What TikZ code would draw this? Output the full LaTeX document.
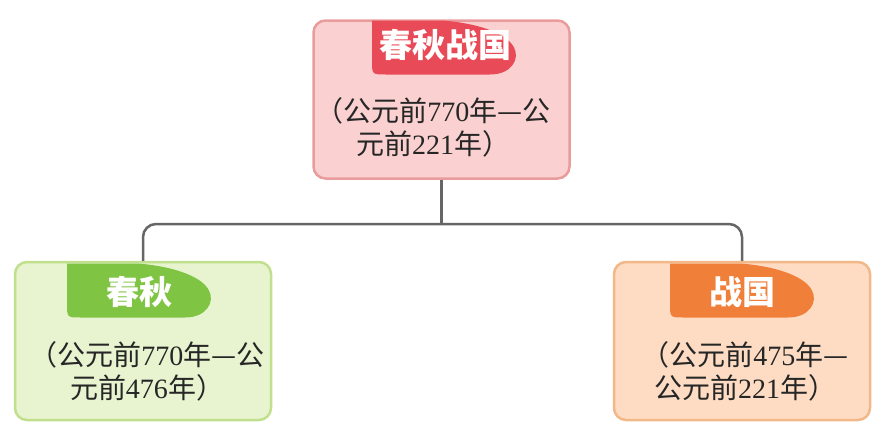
\documentclass[tikz,border=0pt]{standalone}
\usepackage{fontspec}
\setmainfont{Liberation Serif}
\newfontfamily\cjk{Noto Sans CJK SC}
\usepackage{tikz}
\usetikzlibrary{calc}
\usetikzlibrary{positioning}

\definecolor{topfill}{HTML}{FAD1D0}
\definecolor{topline}{HTML}{E99C9C}
\definecolor{toptab}{HTML}{E84B57}
\definecolor{cqfill}{HTML}{E8F4D0}
\definecolor{cqline}{HTML}{C0E08E}
\definecolor{cqtab}{HTML}{80C444}
\definecolor{zgfill}{HTML}{FDDCC3}
\definecolor{zgline}{HTML}{F2B887}
\definecolor{zgtab}{HTML}{F07F3A}
\definecolor{linkgray}{HTML}{666666}

\begin{document}
\begin{tikzpicture}[x=1pt,y=-1pt,
    box/.style={draw, line width=2.5pt, rounded corners=12pt, minimum width=256pt, minimum height=158pt, inner sep=0pt},
    title/.style={text=white, font=\cjk\bfseries\fontsize{33}{33}\selectfont, inner sep=0pt},
    body/.style={text=black!85, align=center, font=\fontsize{28}{33}\selectfont, inner sep=0pt},
    link/.style={draw=linkgray, line width=2.5pt},
    tabshape/.pic={
      \fill (0,0) -- (0,40) .. controls (0,54) .. (14,54) -- (118,54)
        .. controls (140,54) and (148,38) .. (142,27)
        .. controls (134,11) and (100,2) .. (70,0) -- cycle;
    }]
      \useasboundingbox (0,0) rectangle (891,442);

      % top
      \node[box, fill=topfill, draw=topline] (top) at (441.5,99.5) {};
      \pic[fill=toptab] at (372,20.5) {tabshape};
      \node[title] (topt) at (445,45) {春秋战国};
      \node[body] (topd) at (433,127) {{\cjk （公元前}770{\cjk 年—公}\\{\cjk 元前}221{\cjk 年）}};

      % left
      \node[box, fill=cqfill, draw=cqline] (cq) at (143,341) {};
      \pic[fill=cqtab] at (67,263.5) {tabshape};
      \node[title] (cqt) at (139,292) {春秋};
      \node[body] (cqd) at (147,371) {{\cjk （公元前}770{\cjk 年—公}\\{\cjk 元前}476{\cjk 年）}};

      % right
      \node[box, fill=zgfill, draw=zgline] (zg) at (742,341) {};
      \pic[fill=zgtab] at (670,263.5) {tabshape};
      \node[title] (zgt) at (742,292) {战国};
      \node[body] (zgd) at (745,371) {{\cjk （公元前}475{\cjk 年—}\\{\cjk 公元前}221{\cjk 年）}};

      \coordinate (J) at (top.south |- 0,224);
      \draw[link] (top.south) -- (J);
      \draw[link, rounded corners=13pt] (cq.north) |- (J) -| (zg.north);
\end{tikzpicture}
\end{document}
